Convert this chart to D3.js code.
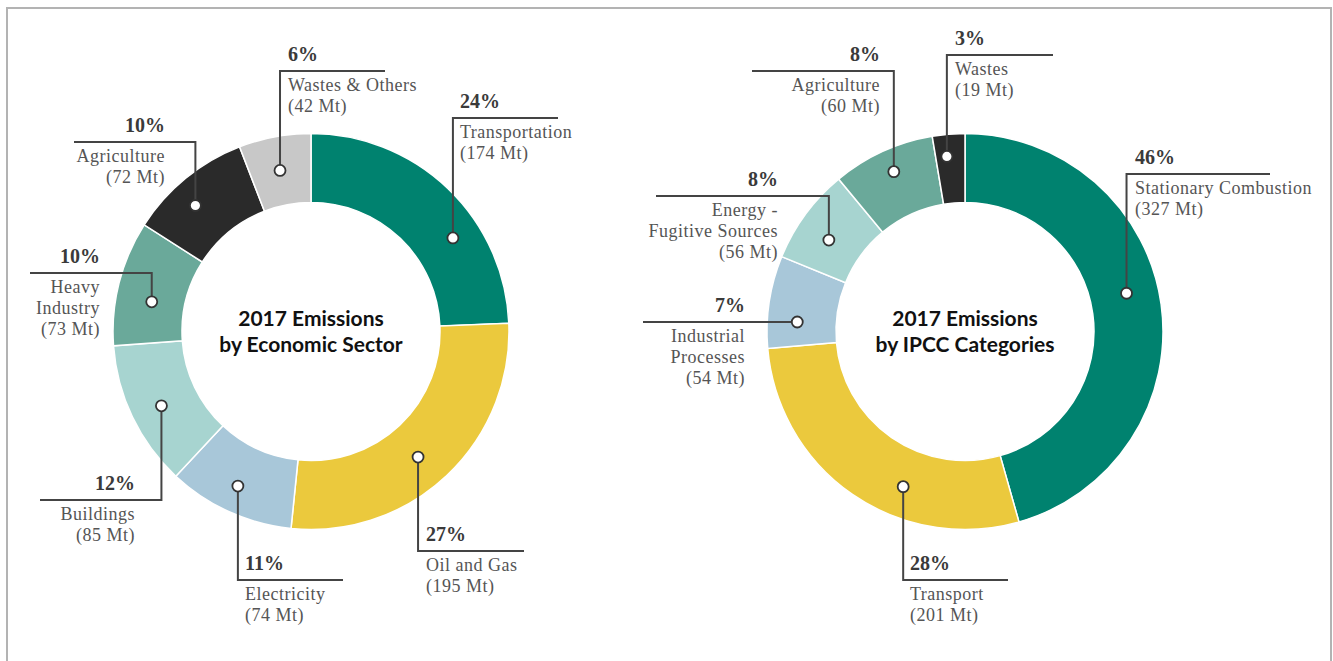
<!DOCTYPE html>
<html>
<head>
<meta charset="utf-8">
<script src="https://cdn.jsdelivr.net/npm/d3@7"></script>
<style>
  html, body { margin: 0; padding: 0; background: #fff; }
  .pct { font-family: "Liberation Serif", serif; font-weight: 700; font-size: 20px; fill: #3a3a3a; }
  .name { font-family: "Liberation Serif", serif; font-size: 18px; fill: #555; letter-spacing: 0.5px; }
  .title { font-family: Lato, "Open Sans", sans-serif; font-weight: 700; font-size: 21px; fill: #111; }
</style>
</head>
<body>
<div id="chart"></div>
<script>
// economic sector donut
const sectorNames = ["Transportation", "Oil and Gas", "Electricity", "Buildings", "Heavy\nIndustry", "Agriculture", "Wastes & Others"];
const sectorMt = [174, 195, 74, 85, 73, 72, 42];
const sectorPct = [24, 27, 11, 12, 10, 10, 6];
const sectorColors = ["#00826f", "#ebc93d", "#a8c7d9", "#a7d4d0", "#6aa99a", "#2a2a2a", "#c8c8c8"];

// IPCC categories donut
const ipccNames = ["Stationary Combustion", "Transport", "Industrial\nProcesses", "Energy -\nFugitive Sources", "Agriculture", "Wastes"];
const ipccMt = [327, 201, 54, 56, 60, 19];
const ipccPct = [46, 28, 7, 8, 8, 3];
const ipccColors = ["#00826f", "#ebc93d", "#a8c7d9", "#a7d4d0", "#6aa99a", "#2a2a2a"];

// callout layout: t = position inside slice, r = radius of dot,
// ey = elbow y (rel. center, null = at dot), hx = line end x, tx = text x, side = text anchor
const sectorCallouts = [
  {t: 0.646, r: 170, ey: -213.5, hx: 247, tx: 149, side: "start"},
  {t: 0.529, r: 165, ey: 219.5, hx: 213, tx: 115, side: "start"},
  {t: 0.524, r: 171, ey: 248.5, hx: 32, tx: -66, side: "start"},
  {t: 0.48, r: 167, ey: 168.5, hx: -271, tx: -176, side: "end"},
  {t: 0.40, r: 162, ey: -58.5, hx: -281, tx: -211, side: "end"},
  {t: 0.41, r: 171, ey: -189.5, hx: -237, tx: -146, side: "end"},
  {t: 0.485, r: 164, ey: -260.5, hx: 74, tx: -23, side: "start"}
];
const ipccCallouts = [
  {t: 0.467, r: 166, ey: -157.5, hx: 305, tx: 170, side: "start"},
  {t: 0.372, r: 167, ey: 248.5, hx: 43, tx: -55, side: "start"},
  {t: 0.30, r: 168, ey: null, hx: -322, tx: -220, side: "end"},
  {t: 0.415, r: 164, ey: -135.5, hx: -309, tx: -187, side: "end"},
  {t: 0.52, r: 175, ey: -260.5, hx: -213, tx: -85, side: "end"},
  {t: 0.38, r: 176, ey: -276.5, hx: 88, tx: -10, side: "start"}
];

const width = 1333, height = 661;
const svg = d3.select("#chart").append("svg")
  .attr("width", width)
  .attr("height", height);

// frame
svg.append("rect")
  .attr("x", 7).attr("y", 8)
  .attr("width", 1324).attr("height", 700)
  .attr("fill", "none")
  .attr("stroke", "#b3b3b3")
  .attr("stroke-width", 2);

function drawDonut(cx, cy, names, values, pcts, colors, callouts, title) {
  const g = svg.append("g").attr("transform", `translate(${cx},${cy})`);

  const pie = d3.pie().sort(null).value(d => d)(values);
  const arc = d3.arc().innerRadius(129).outerRadius(198);

  g.selectAll("path.slice")
    .data(pie)
    .join("path")
    .attr("class", "slice")
    .attr("d", arc)
    .attr("fill", (d, i) => colors[i])
    .attr("stroke", "#fff")
    .attr("stroke-width", 1.5);

  // centre title
  g.selectAll("text.title")
    .data(title)
    .join("text")
    .attr("class", "title")
    .attr("text-anchor", "middle")
    .attr("y", (d, i) => -6 + i * 26)
    .text(d => d);

  // callouts
  pie.forEach((d, i) => {
    const c = callouts[i];
    const a = d.startAngle + c.t * (d.endAngle - d.startAngle);
    const x = Math.sin(a) * c.r;
    const y = -Math.cos(a) * c.r;
    const ey = c.ey === null ? y : c.ey;

    g.append("path")
      .attr("d", `M${x},${y}V${ey}H${c.hx}`)
      .attr("fill", "none")
      .attr("stroke", "#444")
      .attr("stroke-width", 2);

    g.append("circle")
      .attr("cx", x).attr("cy", y)
      .attr("r", 5.5)
      .attr("fill", "#fff")
      .attr("stroke", "#333")
      .attr("stroke-width", 1.8);

    g.append("text")
      .attr("class", "pct")
      .attr("x", c.tx).attr("y", ey - 10)
      .attr("text-anchor", c.side)
      .text(pcts[i] + "%");

    const lines = names[i].split("\n").concat(`(${values[i]} Mt)`);
    g.append("text")
      .attr("class", "name")
      .attr("text-anchor", c.side)
      .selectAll("tspan")
      .data(lines)
      .join("tspan")
      .attr("x", c.tx)
      .attr("y", (l, k) => ey + 20 + k * 21)
      .text(l => l);
  });
}

drawDonut(311, 331.5, sectorNames, sectorMt, sectorPct, sectorColors, sectorCallouts, ["2017 Emissions", "by Economic Sector"]);
drawDonut(965, 331.5, ipccNames, ipccMt, ipccPct, ipccColors, ipccCallouts, ["2017 Emissions", "by IPCC Categories"]);
</script>
</body>
</html>
